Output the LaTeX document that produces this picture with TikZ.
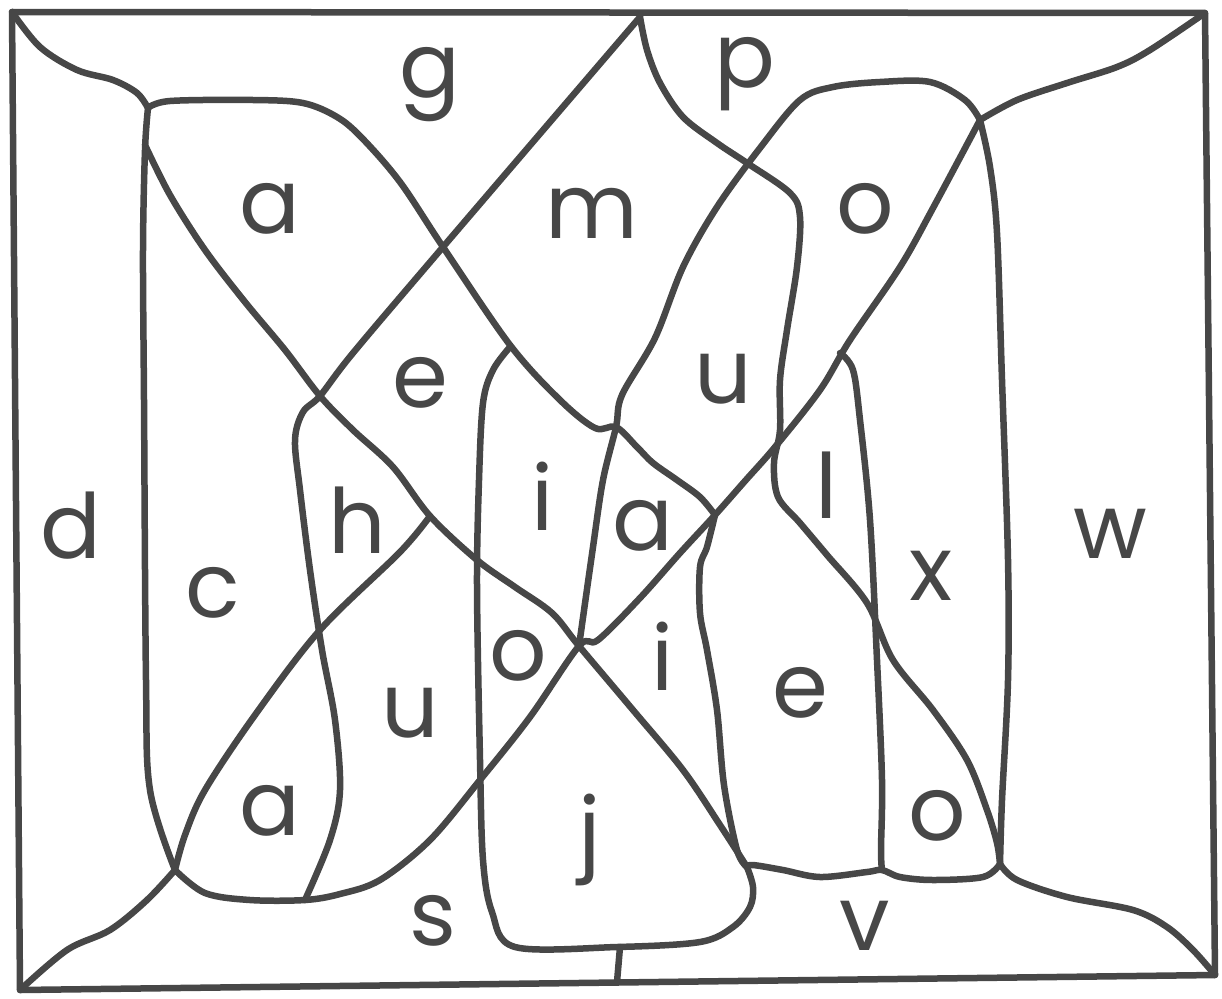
\documentclass[tikz,border=0pt]{standalone}
\usepackage{fontspec}
\setmainfont{Poppins}
\usepackage{tikz}

\tikzset{
  edge/.style={line width=6.5pt, draw=black!72, line cap=round, line join=round},
  curve/.style={smooth, tension=0.55},
  letter/.style={font=\fontsize{90}{90}\selectfont, text=black!72, inner sep=0pt, anchor=base}
}

\begin{document}
\begin{tikzpicture}[x=1pt, y=-1pt]
  \useasboundingbox (0,0) rectangle (1222,998);
  % frame corners and junctions (1 unit = 1 px of the drawing)
  \coordinate (C1) at (12,12);
  \coordinate (C2) at (1205,13);
  \coordinate (C3) at (1215,975);
  \coordinate (C4) at (20,990);
  \coordinate (T1) at (640,17);
  \coordinate (J1) at (148,108);
  \coordinate (J2) at (616,427);
  \coordinate (J3) at (715,515);
  \coordinate (J4) at (175,870);
  \coordinate (J5) at (320,396);
  \coordinate (J6) at (579,646);
  \coordinate (J7) at (747,867);
  \coordinate (J8) at (430,516);
  \coordinate (J9) at (980,120);
  \coordinate (J10) at (305,900);
  \coordinate (J11) at (1000,864);
  \coordinate (J12) at (882,870);

  \draw[edge] (C1) -- (C2) -- (C3) -- (C4) -- cycle;

  % corner curves
  \draw[edge] plot[curve] coordinates {(C1) (40,47) (77,70) (113,80) (137,93) (J1)};
  \draw[edge] plot[curve] coordinates {(J4) (147,900) (110,930) (67,950) (C4)};
  \draw[edge] plot[curve] coordinates {(J9) (1017,100) (1067,83) (1117,67) (1150,50) (C2)};
  \draw[edge] plot[curve] coordinates {(J11) (1017,880) (1067,897) (1133,910) (1167,927) (1193,950) (C3)};

  % left column
  \draw[edge] plot[curve] coordinates {(J1) (145,150) (143,250) (144,400) (146,680) (150,790) (J4)};
  % top of the a region
  \draw[edge] plot[curve] coordinates {(J1) (170,101) (253,100) (303,103) (337,117) (362,138) (400,182)
    (443,247) (510,345) (560,400) (595,428) (J2) (637,447) (653,463) (677,480) (700,497) (J3)};
  % long diagonal from the left
  \draw[edge] plot[curve] coordinates {(145,145) (170,195) (205,250) (245,302) (285,350) (J5)
    (353,430) (393,467) (J8) (477,560) (515,587) (552,613) (J6) (633,710) (683,770) (720,825) (J7)};
  % diagonal from the top, then the h box
  \draw[edge] plot[curve] coordinates {(T1) (443,247) (353,353) (J5) (303,412) (295,440) (300,490)
    (310,570) (322,650) (335,720) (340,790) (330,840) (J10)};
  \draw[edge] plot[curve] coordinates {(J8) (400,552) (320,630) (255,715) (205,790) (185,835) (J4)};
  % bottom of the a region and diagonal to the top right
  \draw[edge] plot[curve] coordinates {(J4) (205,893) (250,900) (J10) (340,894) (380,880) (430,840)
    (480,780) (530,717) (J6) (598,640) (640,598) (680,553) (J3) (745,481) (775,447) (820,390)
    (850,340) (900,267) (933,208) (J9)};
  % o region
  \draw[edge] plot[curve] coordinates {(J6) (593,547) (603,480) (J2) (622,395) (655,338) (683,267)
    (717,207) (760,148) (800,100) (833,87) (880,82) (930,82) (965,100) (J9)};
  % w column
  \draw[edge] plot[curve] coordinates {(J9) (990,167) (997,233) (1002,380) (1008,560) (1008,680)
    (1002,800) (J11)};
  % p curve
  \draw[edge] plot[curve] coordinates {(T1) (647,50) (660,83) (683,117) (717,143) (747,163) (790,193)
    (800,217) (797,267) (787,330) (780,380) (780,430) (774,463) (778,497) (800,523) (827,555)
    (867,603) (893,660) (933,710) (967,760) (987,810) (997,843) (J11)};
  % l / e boxes
  \draw[edge] plot[curve] coordinates {(840,353) (853,370) (860,420) (870,520) (877,660)
    (882,780) (881,850) (J12)};
  \draw[edge] plot[curve] coordinates {(J7) (753,865) (783,870) (820,877) (867,872) (J12) (900,877) (933,880) (983,877) (J11)};
  \draw[edge] plot[curve] coordinates {(J3) (707,547) (700,567) (700,613) (707,650) (717,710)
    (724,785) (737,850) (J7)};
  % i / j box
  \draw[edge] plot[curve] coordinates {(510,347) (493,370) (483,403) (479,480) (477,587)
    (480,760) (483,860) (492,912) (515,947) (617,947) (700,942) (733,927) (750,907) (753,887) (J7)};
  \coordinate (S1) at (620,947);
  \coordinate (S2) at (617,982);
  \draw[edge] (S1) -- (S2);

  % letters
  \node[letter] (g)  at (430,97)  {g};
  \node[letter] (p)  at (745,87)  {p};
  \node[letter] (a1) at (270,233) {a};
  \node[letter] (m)  at (592,238) {m};
  \node[letter] (o1) at (865,233) {o};
  \node[letter] (e1) at (420,407) {e};
  \node[letter] (u1) at (723,403) {u};
  \node[letter] (d)  at (71,558)  {d};
  \node[letter] (h)  at (357,553) {h};
  \node[letter] (c)  at (213,617) {c};
  \node[letter] (i1) at (543,530) {i};
  \node[letter] (a2) at (643,550) {a};
  \node[letter] (l)  at (827,518) {l};
  \node[letter] (x)  at (931,600) {x};
  \node[letter] (w)  at (1110,558) {w};
  \node[letter] (o2) at (518,680) {o};
  \node[letter] (i2) at (663,690) {i};
  \node[letter] (u2) at (410,737) {u};
  \node[letter] (e2) at (800,717) {e};
  \node[letter] (a3) at (270,835) {a};
  \node[letter] (j)  at (590,862) {j};
  \node[letter] (s)  at (433,945) {s};
  \node[letter] (o3) at (937,840) {o};
  \node[letter] (v)  at (865,950) {v};
\end{tikzpicture}
\end{document}
